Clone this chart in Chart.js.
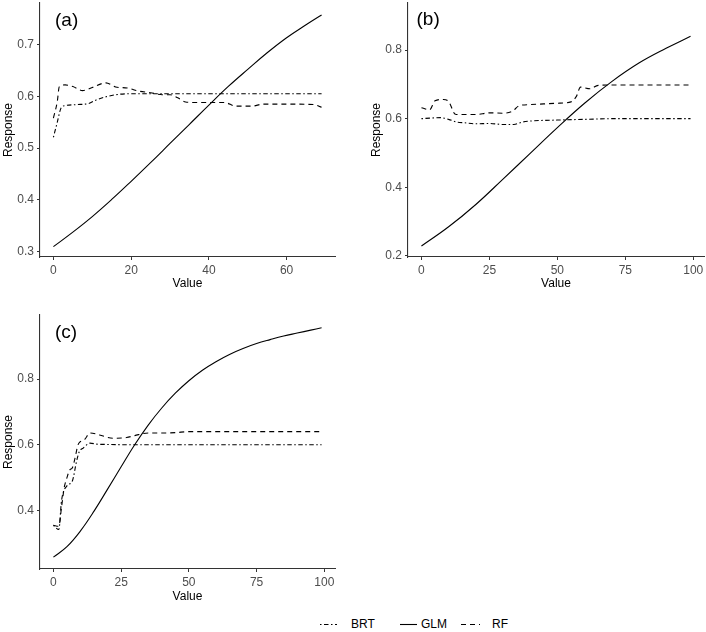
<!DOCTYPE html>
<html>
<head>
<meta charset="utf-8">
<script src="https://cdn.jsdelivr.net/npm/chart.js@4.4.1/dist/chart.umd.min.js"></script>
<style>
  body { margin: 0; background: #fff; font-family: "Liberation Sans", Arial, sans-serif; }
  #wrap { position: relative; width: 706px; height: 632px; }
  canvas.panel { position: absolute; }
  .key { position: absolute; top: 616px; }
  .lbl { position: absolute; top: 616px; font-size: 12px; line-height: 16px; color: #000; }
</style>
</head>
<body>
<div id="wrap">
  <canvas id="chartA" class="panel" style="left:0;top:0;width:340px;height:300px"></canvas>
  <canvas id="chartB" class="panel" style="left:350px;top:0;width:356px;height:300px"></canvas>
  <canvas id="chartC" class="panel" style="left:0;top:300px;width:340px;height:310px"></canvas>

  <canvas id="keyBRT" class="key" width="17" height="16" style="left:320px"></canvas>
  <span class="lbl" style="left:351px">BRT</span>
  <canvas id="keyGLM" class="key" width="17" height="16" style="left:400px"></canvas>
  <span class="lbl" style="left:421px">GLM</span>
  <canvas id="keyRF" class="key" width="19" height="16" style="left:461px"></canvas>
  <span class="lbl" style="left:492px">RF</span>
</div>
<script>
// ---- datos ----
// panel (a)
var glmAx = [0, 5, 10, 15, 20, 25, 30, 35, 40, 45, 50, 55, 60, 65, 69];
var glmAy = [0.310, 0.338, 0.368, 0.401, 0.436, 0.472, 0.509, 0.546, 0.583, 0.619, 0.652, 0.684, 0.713, 0.738, 0.757];
var rfAx = [0, 1, 1.5, 3, 5, 7.5, 10, 13.5, 16, 19, 22, 25, 28, 30, 32, 34, 37, 44, 47, 51, 54, 60, 67, 69];
var rfAy = [0.558, 0.590, 0.618, 0.622, 0.619, 0.611, 0.617, 0.626, 0.618, 0.616, 0.610, 0.607, 0.603, 0.603, 0.597, 0.589, 0.588, 0.588, 0.581, 0.581, 0.585, 0.585, 0.584, 0.579];
var brtAx = [0, 1, 2, 3, 6, 9, 11, 14, 17, 20, 30, 40, 50, 60, 69];
var brtAy = [0.521, 0.550, 0.578, 0.582, 0.584, 0.586, 0.593, 0.600, 0.604, 0.605, 0.605, 0.605, 0.605, 0.605, 0.605];

// panel (b)
var glmBx = [0, 10, 20, 30, 40, 50, 60, 70, 80, 90, 99];
var glmBy = [0.229, 0.285, 0.350, 0.424, 0.499, 0.574, 0.645, 0.708, 0.762, 0.805, 0.840];
var rfBx = [0, 3, 5, 8, 10, 12.5, 15, 20, 25, 30, 33.5, 36, 40, 45, 50, 55, 57, 58.5, 62, 65, 70, 80, 99];
var rfBy = [0.632, 0.626, 0.652, 0.656, 0.650, 0.613, 0.612, 0.612, 0.617, 0.616, 0.622, 0.638, 0.641, 0.643, 0.645, 0.649, 0.665, 0.692, 0.687, 0.697, 0.698, 0.698, 0.698];
var brtBx = [0, 4, 7, 10, 13, 16, 20, 25, 30, 34, 37, 40, 50, 60, 70, 80, 99];
var brtBy = [0.600, 0.602, 0.603, 0.598, 0.590, 0.588, 0.585, 0.586, 0.583, 0.583, 0.590, 0.593, 0.596, 0.598, 0.600, 0.600, 0.600];

// panel (c)
var glmCx = [0, 5, 10, 15, 20, 25, 30, 35, 40, 45, 50, 55, 60, 65, 70, 75, 80, 85, 90, 95, 99];
var glmCy = [0.258, 0.290, 0.338, 0.398, 0.465, 0.533, 0.600, 0.660, 0.712, 0.757, 0.795, 0.827, 0.853, 0.875, 0.893, 0.908, 0.920, 0.931, 0.940, 0.949, 0.956];
var rfCx = [0, 2, 3, 4, 5, 6, 7, 8, 9, 10, 11.5, 13.5, 17, 22, 27, 30, 35, 40, 45, 50, 60, 99];
var rfCy = [0.355, 0.352, 0.410, 0.470, 0.500, 0.523, 0.530, 0.560, 0.598, 0.610, 0.616, 0.636, 0.630, 0.620, 0.622, 0.628, 0.636, 0.636, 0.637, 0.640, 0.640, 0.640];
var brtCx = [0, 2, 3, 5, 7, 8.5, 9.5, 11, 13.5, 16, 20, 30, 50, 99];
var brtCy = [0.355, 0.342, 0.430, 0.475, 0.490, 0.548, 0.578, 0.590, 0.605, 0.602, 0.601, 0.600, 0.600, 0.600];

// marcas de los ejes
var ticksAx = [0, 20, 40, 60];
var ticksAy = [0.3, 0.4, 0.5, 0.6, 0.7];
var ticksBx = [0, 25, 50, 75, 100];
var ticksBy = [0.2, 0.4, 0.6, 0.8];
var ticksCx = [0, 25, 50, 75, 100];
var ticksCy = [0.4, 0.6, 0.8];

var DASH_RF = [5, 4];
var DASH_BRT = [1.5, 2.5, 4.5, 2.5];
var FUENTE = '"Liberation Sans", Arial, sans-serif';

function puntos(xs, ys) {
  return xs.map(function (x, i) { return { x: x, y: ys[i] }; });
}

function serie(label, xs, ys, dash, suave) {
  var ds = {
    label: label,
    data: puntos(xs, ys),
    borderColor: '#000',
    borderWidth: 1.1,
    borderDash: dash,
    pointRadius: 0,
    showLine: true,
    fill: false
  };
  if (suave) {
    ds.tension = 0.4; // curva GLM bien suave
  } else {
    ds.cubicInterpolationMode = 'monotone';
  }
  return ds;
}

// plugin para la etiqueta del panel: (a), (b), (c)
var etiquetaPanel = {
  id: 'etiquetaPanel',
  afterDraw: function (chart, args, opts) {
    var ctx = chart.ctx;
    ctx.save();
    ctx.font = '19px ' + FUENTE;
    ctx.fillStyle = '#000';
    ctx.textBaseline = 'middle';
    ctx.fillText(opts.text, chart.chartArea.left + opts.dx, chart.chartArea.top + opts.dy);
    ctx.restore();
  }
};

// quitar el relleno automatico que Chart.js reserva para las etiquetas
function sinRelleno(s) {
  s.paddingTop = 0;
  s.paddingBottom = 0;
  s.paddingLeft = 0;
  s.paddingRight = 0;
}

function graficarPanel(id, cfg) {
  var ctx = document.getElementById(id).getContext('2d');
  return new Chart(ctx, {
    type: 'scatter',
    data: {
      datasets: [
        serie('BRT', cfg.brt[0], cfg.brt[1], DASH_BRT, false),
        serie('GLM', cfg.glm[0], cfg.glm[1], [], true),
        serie('RF', cfg.rf[0], cfg.rf[1], DASH_RF, false)
      ]
    },
    options: {
      responsive: false,
      animation: false,
      layout: { padding: cfg.padding },
      plugins: {
        legend: { display: false },
        tooltip: { enabled: false },
        etiquetaPanel: cfg.label
      },
      scales: {
        x: {
          type: 'linear',
          min: cfg.xRange[0],
          max: cfg.xRange[1],
          afterBuildTicks: function (s) { s.ticks = cfg.xTicks.map(function (v) { return { value: v }; }); },
          afterFit: function (s) { s.height = cfg.xHeight; sinRelleno(s); },
          grid: { drawOnChartArea: false, drawTicks: true, tickLength: 3, color: '#333' },
          border: { display: true, color: '#333', width: 1.1 },
          ticks: {
            padding: 3,
            color: '#4d4d4d',
            maxRotation: 0,
            font: { family: FUENTE, size: 12 },
            callback: function (v) { return v; }
          },
          title: {
            display: true,
            text: 'Value',
            color: '#000',
            padding: { top: 0, bottom: cfg.xTitlePad },
            font: { family: FUENTE, size: 12, lineHeight: 1.2 }
          }
        },
        y: {
          type: 'linear',
          min: cfg.yRange[0],
          max: cfg.yRange[1],
          afterBuildTicks: function (s) { s.ticks = cfg.yTicks.map(function (v) { return { value: v }; }); },
          afterFit: function (s) { s.width = cfg.yWidth; sinRelleno(s); },
          grid: { drawOnChartArea: false, drawTicks: true, tickLength: 3, color: '#333' },
          border: { display: true, color: '#333', width: 1.1 },
          ticks: {
            padding: 3,
            color: '#4d4d4d',
            font: { family: FUENTE, size: 12 },
            callback: function (v) { return Number(v).toFixed(1); }
          },
          title: {
            display: true,
            text: 'Response',
            color: '#000',
            padding: { top: 1, bottom: 0 },
            font: { family: FUENTE, size: 12, lineHeight: 1.2 }
          }
        }
      }
    },
    plugins: [etiquetaPanel]
  });
}

graficarPanel('chartA', {
  glm: [glmAx, glmAy], rf: [rfAx, rfAy], brt: [brtAx, brtAy],
  xRange: [-3.45, 72.45], yRange: [0.29, 0.78],
  xTicks: ticksAx, yTicks: ticksAy,
  padding: { top: 3, right: 5, left: 0, bottom: 0 },
  yWidth: 40, xHeight: 43, xTitlePad: 9,
  label: { text: '(a)', dx: 15, dy: 17.5 }
});

graficarPanel('chartB', {
  glm: [glmBx, glmBy], rf: [rfBx, rfBy], brt: [brtBx, brtBy],
  xRange: [-4.95, 103.95], yRange: [0.197, 0.937],
  xTicks: ticksBx, yTicks: ticksBy,
  padding: { top: 3, right: 2, left: 18, bottom: 0 },
  yWidth: 40, xHeight: 43, xTitlePad: 9,
  label: { text: '(b)', dx: 8.5, dy: 16.5 }
});

graficarPanel('chartC', {
  glm: [glmCx, glmCy], rf: [rfCx, rfCy], brt: [brtCx, brtCy],
  xRange: [-4.95, 103.95], yRange: [0.222, 0.995],
  xTicks: ticksCx, yTicks: ticksCy,
  padding: { top: 15, right: 5, left: 0, bottom: 0 },
  yWidth: 40, xHeight: 41, xTitlePad: 6,
  label: { text: '(c)', dx: 15, dy: 17.5 }
});

// leyenda: muestras de linea dibujadas a mano
function muestra(id, dash) {
  var c = document.getElementById(id).getContext('2d');
  c.strokeStyle = '#000';
  c.lineWidth = 1.1;
  c.setLineDash(dash);
  c.beginPath();
  c.moveTo(0, 8.5);
  c.lineTo(c.canvas.width, 8.5);
  c.stroke();
}
muestra('keyBRT', DASH_BRT);
muestra('keyGLM', []);
muestra('keyRF', DASH_RF);
</script>
</body>
</html>
